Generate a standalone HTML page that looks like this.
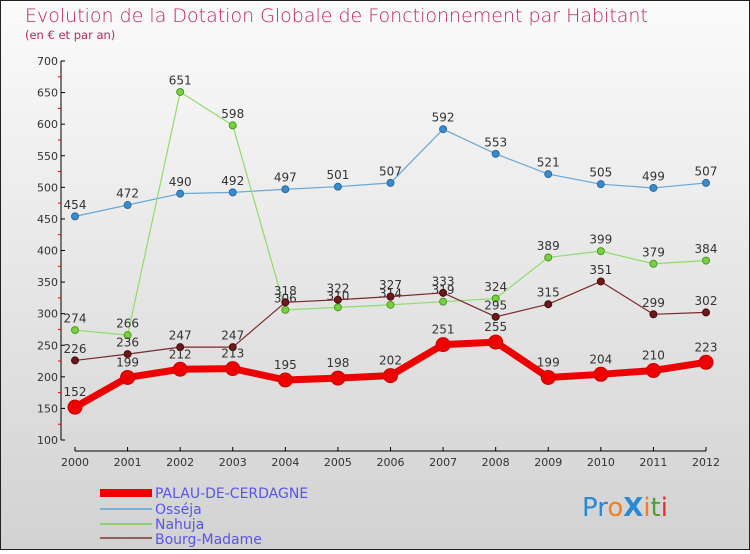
<!DOCTYPE html>
<html><head><meta charset="utf-8"><style>
html,body{margin:0;padding:0}
body{width:750px;height:550px;overflow:hidden;font-family:"DejaVu Sans","Liberation Sans",sans-serif}
</style></head><body>
<svg width="750" height="550" xmlns="http://www.w3.org/2000/svg" id="c">
<defs><linearGradient id="bg" x1="0" y1="0" x2="0" y2="1"><stop offset="0" stop-color="#fbfbfb"/><stop offset="1" stop-color="#d2d2d2"/></linearGradient></defs>
<rect x="0.5" y="0.5" width="749" height="549" fill="url(#bg)" stroke="#222"/>
<text x="25" y="22" font-size="19" fill="#c0245c" font-weight="300">Evolution de la Dotation Globale de Fonctionnement par Habitant</text>
<text x="25" y="39" font-size="11.5" fill="#c0245c">(en € et par an)</text>
<g id="axes"></g><g id="series"></g>
<g font-size="14" fill="#5555ee">
<rect x="100" y="489" width="52" height="8" fill="#e00"/>
<text x="155" y="498" fill="#5555ee">PALAU-DE-CERDAGNE</text>
<rect x="100" y="508" width="52" height="2" fill="#7ab0d8"/>
<text x="155" y="514" fill="#5555ee">Osséja</text>
<rect x="100" y="523" width="52" height="2" fill="#90d070"/>
<text x="155" y="529" fill="#5555ee">Nahuja</text>
<rect x="100" y="537" width="52" height="2" fill="#906060"/>
<text x="155" y="544" fill="#5555ee">Bourg-Madame</text>
</g>
<g font-size="26" font-family="DejaVu Sans,sans-serif">
<text x="582" y="516"><tspan fill="#2a88d8">Pr</tspan><tspan fill="#f08020">o</tspan><tspan fill="#2a88d8" font-weight="bold">X</tspan><tspan fill="#f08020">i</tspan><tspan fill="#4aa030">t</tspan><tspan fill="#e03030">i</tspan></text>
</g>
</svg>
<script>
const years=[2000,2001,2002,2003,2004,2005,2006,2007,2008,2009,2010,2011,2012];
const palau=[152,199,212,213,195,198,202,251,255,199,204,210,223];
const osseja=[454,472,490,492,497,501,507,592,553,521,505,499,507];
const nahuja=[274,266,651,598,306,310,314,319,324,389,399,379,384];
const bourg=[226,236,247,247,318,322,327,333,295,315,351,299,302];
const yTicks=[100,150,200,250,300,350,400,450,500,550,600,650,700];
const NS="http://www.w3.org/2000/svg";
const xs=i=>75+i*(706-75)/12;
const ys=v=>440-(v-100)*(440-61)/600;
function mk(tag,attrs,parent){const e=document.createElementNS(NS,tag);for(const k in attrs)e.setAttribute(k,attrs[k]);parent.appendChild(e);return e;}
const ax=document.getElementById('axes');
let l=mk('line',{x1:61,y1:61,x2:61,y2:440,stroke:'#000','stroke-width':1},ax);


l=mk('line',{x1:75,y1:451,x2:706,y2:451,stroke:'#000','stroke-width':1},ax);


yTicks.forEach((v,i)=>{
  mk('line',{x1:61,y1:ys(v),x2:65,y2:ys(v),stroke:'#000'},ax);
  if(i<yTicks.length-1) mk('line',{x1:58,y1:ys(v+25),x2:61,y2:ys(v+25),stroke:'#e00'},ax);
  const t=mk('text',{x:58,y:ys(v)+4,'text-anchor':'end','font-size':11,fill:'#333'},ax);
  t.textContent=v;
  
  
});
years.forEach((y,i)=>{
  mk('line',{x1:xs(i),y1:447,x2:xs(i),y2:451,stroke:'#000'},ax);
  const t=mk('text',{x:xs(i),y:466,'text-anchor':'middle','font-size':11,fill:'#333'},ax);
  t.textContent=y;
  
  
});
const sg=document.getElementById('series');
function series(name,vals,color,dot,w,r,dotStroke){
  const g=mk('g',{},sg);
  
  
  const p=mk('polyline',{points:vals.map((v,i)=>xs(i)+','+ys(v)).join(' '),fill:'none',stroke:color,'stroke-width':w,'stroke-linejoin':'round'},g);
  
  
  vals.forEach((v,i)=>{
    const c=mk('circle',{cx:xs(i),cy:ys(v),r:r,fill:dot,stroke:dotStroke,'stroke-width':1},g);
    
    
    const t=mk('text',{x:xs(i),y:ys(v)-r-4,'text-anchor':'middle','font-size':12,fill:'#333'},g);
    t.textContent=v;
    
    
  });
}
series('osseja',osseja,'#6aa6d6','#3a8ad0',1.2,3.5,'#2a6aa0');
series('nahuja',nahuja,'#8fdc6a','#7ad040',1.2,3.5,'#4a9a20');
series('bourg-madame',bourg,'#7a2a2a','#6a1a1a',1.2,3.5,'#4a0a0a');
series('palau-de-cerdagne',palau,'#ee0000','#ee0000',7,7,'#cc0000');
</script>
</body></html>
